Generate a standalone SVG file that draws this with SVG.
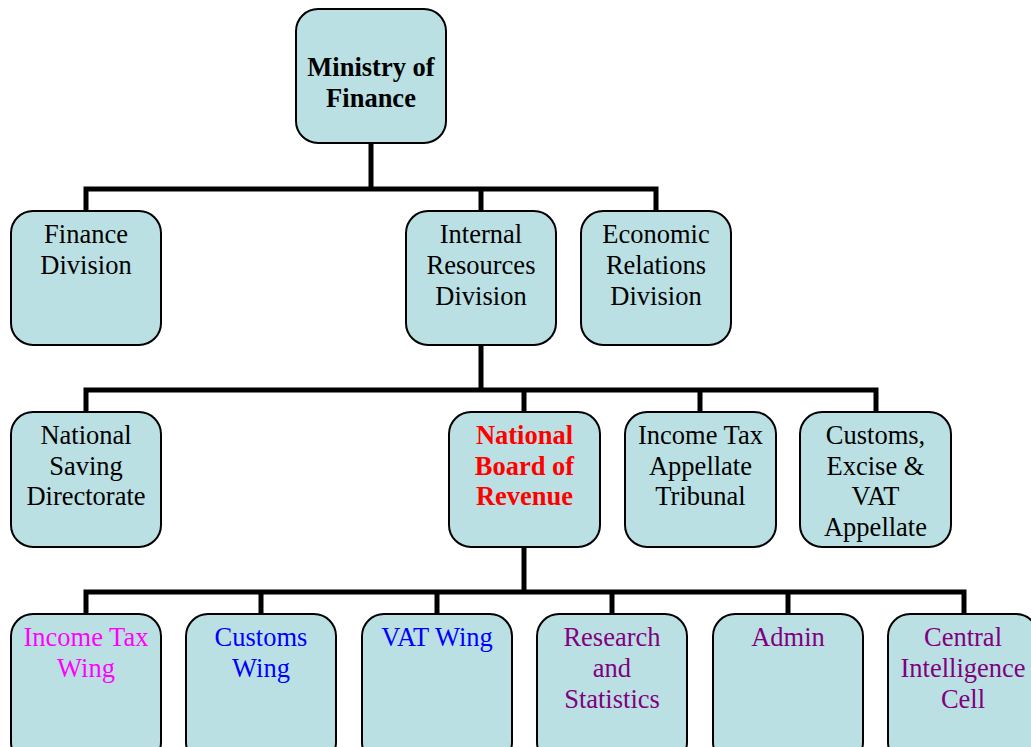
<svg xmlns="http://www.w3.org/2000/svg" width="1031" height="747" viewBox="0 0 1031 747">
<style>
.box{fill:#bbe0e3;stroke:#000;stroke-width:2}
.t{font-family:"Liberation Serif","Times New Roman",serif;font-size:26.5px;text-anchor:middle;fill:#000}
.b{font-weight:bold}
.red{fill:#ff0000}
.mag{fill:#ff00ff}
.blue{fill:#0000ff}
.pur{fill:#800080}
.c{fill:none;stroke:#000;stroke-width:5;stroke-linecap:square;stroke-linejoin:miter}
</style>
<rect width="1031" height="747" fill="#fff"/>
<g id="connectors">
<path class="c" d="M371 143V189M86 211V189H656V211M481 189V211"/>
<path class="c" d="M481 345V390M86 412V390H876V412M524 390V412M700 390V412"/>
<path class="c" d="M524 547V592M86 614V592H964V614M261 592V614M437 592V614M612 592V614M788 592V614"/>
</g>
<g id="ministry"><rect class="box" x="296" y="9" width="150" height="134" rx="22"/>
<text class="t b" x="371" y="76">Ministry of</text><text class="t b" x="371" y="107">Finance</text></g>
<g id="finance-division"><rect class="box" x="11" y="211" width="150" height="134" rx="22"/>
<text class="t" x="86" y="243">Finance</text><text class="t" x="86" y="274">Division</text></g>
<g id="ird"><rect class="box" x="406" y="211" width="150" height="134" rx="22"/>
<text class="t" x="481" y="243">Internal</text><text class="t" x="481" y="274">Resources</text><text class="t" x="481" y="305">Division</text></g>
<g id="erd"><rect class="box" x="581" y="211" width="150" height="134" rx="22"/>
<text class="t" x="656" y="243">Economic</text><text class="t" x="656" y="274">Relations</text><text class="t" x="656" y="305">Division</text></g>
<g id="nsd"><rect class="box" x="11" y="412" width="150" height="135" rx="22"/>
<text class="t" x="86" y="444">National</text><text class="t" x="86" y="475">Saving</text><text class="t" x="86" y="505">Directorate</text></g>
<g id="nbr"><rect class="box" x="449" y="412" width="151" height="135" rx="22"/>
<text class="t b red" x="524.5" y="444">National</text><text class="t b red" x="524.5" y="475">Board of</text><text class="t b red" x="524.5" y="505">Revenue</text></g>
<g id="itat"><rect class="box" x="625" y="412" width="151" height="135" rx="22"/>
<text class="t" x="700.5" y="444">Income Tax</text><text class="t" x="700.5" y="475">Appellate</text><text class="t" x="700.5" y="505">Tribunal</text></g>
<g id="cevat"><rect class="box" x="800" y="412" width="151" height="135" rx="22"/>
<text class="t" x="875.5" y="444">Customs,</text><text class="t" x="875.5" y="475">Excise &amp;</text><text class="t" x="875.5" y="505">VAT</text><text class="t" x="875.5" y="536">Appellate</text></g>
<g id="itw"><rect class="box" x="11" y="614" width="150" height="150" rx="22"/>
<text class="t mag" x="86" y="646">Income Tax</text><text class="t mag" x="86" y="677">Wing</text></g>
<g id="cw"><rect class="box" x="186" y="614" width="150" height="150" rx="22"/>
<text class="t blue" x="261" y="646">Customs</text><text class="t blue" x="261" y="677">Wing</text></g>
<g id="vat"><rect class="box" x="362" y="614" width="150" height="150" rx="22"/>
<text class="t blue" x="437" y="646">VAT Wing</text></g>
<g id="rs"><rect class="box" x="537" y="614" width="150" height="150" rx="22"/>
<text class="t pur" x="612" y="646">Research</text><text class="t pur" x="612" y="677">and</text><text class="t pur" x="612" y="708">Statistics</text></g>
<g id="admin"><rect class="box" x="713" y="614" width="150" height="150" rx="22"/>
<text class="t pur" x="788" y="646">Admin</text></g>
<g id="cic"><rect class="box" x="888" y="614" width="150" height="150" rx="22"/>
<text class="t pur" x="963" y="646">Central</text><text class="t pur" x="963" y="677">Intelligence</text><text class="t pur" x="963" y="708">Cell</text></g>
</svg>
